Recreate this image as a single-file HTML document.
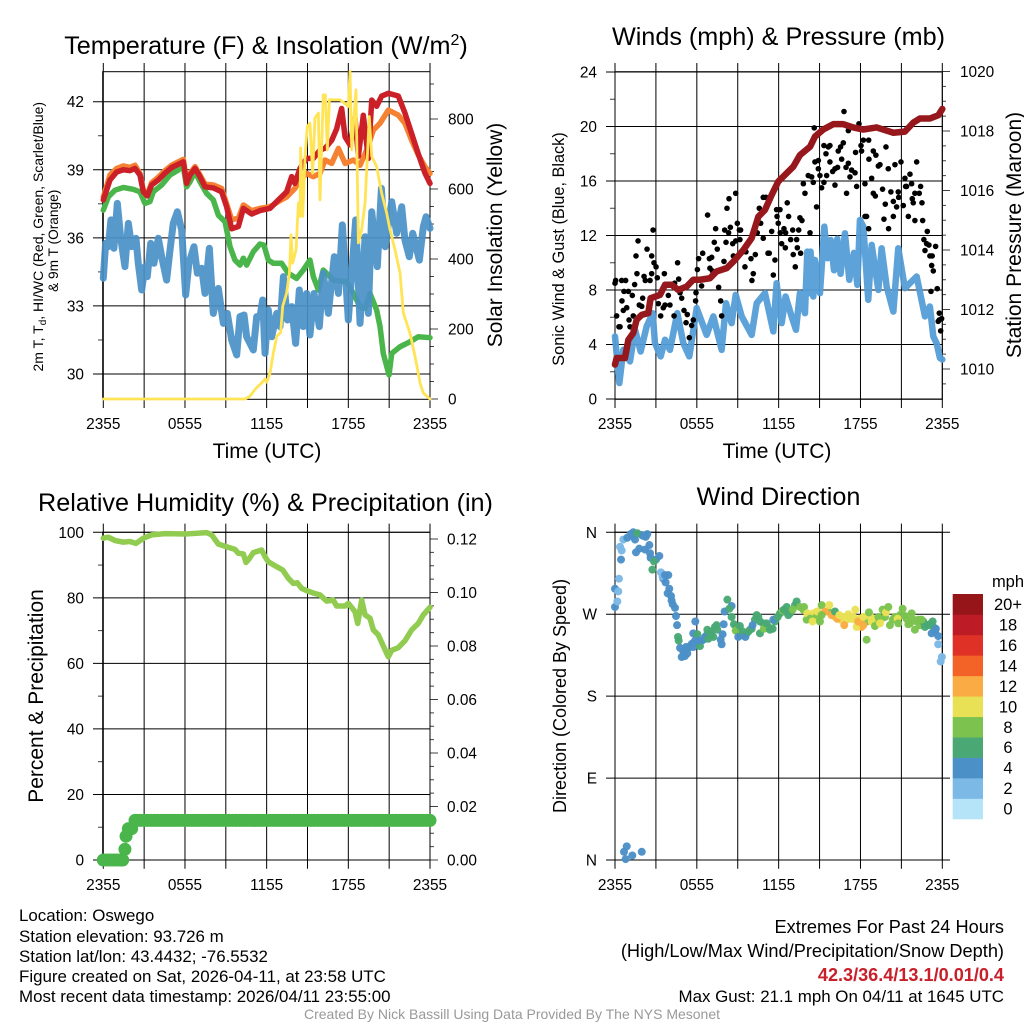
<!DOCTYPE html>
<html lang="en">
<head>
<meta charset="utf-8">
<title>Oswego Mesonet Meteogram</title>
<style>
html,body{margin:0;padding:0;background:#fff;}
svg{display:block;font-family:"Liberation Sans",Arial,sans-serif;fill:#000;}
</style>
</head>
<body>
<svg id="chart" xmlns="http://www.w3.org/2000/svg" width="1024" height="1024" viewBox="0 0 1024 1024">
<rect x="0" y="0" width="1024" height="1024" fill="#fff"/>
<text x="266" y="54" font-size="25.2" text-anchor="middle">Temperature (F) &amp; Insolation (W/m<tspan dy="-9" font-size="16">2</tspan><tspan dy="9">)</tspan></text>
<text x="778.5" y="45" font-size="25.2" text-anchor="middle">Winds (mph) &amp; Pressure (mb)</text>
<text x="265.5" y="511" font-size="25.2" text-anchor="middle">Relative Humidity (%) &amp; Precipitation (in)</text>
<text x="778.5" y="505" font-size="25.2" text-anchor="middle">Wind Direction</text>
<text x="267" y="458" font-size="21" text-anchor="middle">Time (UTC)</text>
<text x="777" y="458" font-size="21" text-anchor="middle">Time (UTC)</text>
<text transform="translate(43,236.7) rotate(-90)" font-size="14" text-anchor="middle">2m T, T<tspan dy="3" font-size="10">d</tspan><tspan dy="-3">, HI/WC (Red, Green, Scarlet/Blue)</tspan></text>
<text transform="translate(58,240.8) rotate(-90)" font-size="13.7" text-anchor="middle">&amp; 9m T (Orange)</text>
<text transform="translate(502,235) rotate(-90)" font-size="21" text-anchor="middle">Solar Insolation (Yellow)</text>
<text transform="translate(564,249) rotate(-90)" font-size="16.3" text-anchor="middle">Sonic Wind &amp; Gust (Blue, Black)</text>
<text transform="translate(1021,235) rotate(-90)" font-size="21" text-anchor="middle">Station Pressure (Maroon)</text>
<text transform="translate(43,696) rotate(-90)" font-size="21" text-anchor="middle">Percent &amp; Precipitation</text>
<text transform="translate(566,696) rotate(-90)" font-size="18" text-anchor="middle">Direction (Colored By Speed)</text>
<text x="19" y="921" font-size="16.9">Location: Oswego</text>
<text x="19" y="942" font-size="16.9">Station elevation: 93.726 m</text>
<text x="19" y="962" font-size="16.9">Station lat/lon: 43.4432; -76.5532</text>
<text x="19" y="982" font-size="16.9">Figure created on Sat, 2026-04-11, at 23:58 UTC</text>
<text x="19" y="1002" font-size="16.9">Most recent data timestamp: 2026/04/11 23:55:00</text>
<text x="1004" y="933" font-size="18.2" text-anchor="end">Extremes For Past 24 Hours</text>
<text x="1004" y="957" font-size="18.2" text-anchor="end">(High/Low/Max Wind/Precipitation/Snow Depth)</text>
<text x="1004" y="981" font-size="18.1" font-weight="bold" fill="#c8202a" text-anchor="end">42.3/36.4/13.1/0.01/0.4</text>
<text x="1004" y="1002" font-size="16.9" text-anchor="end">Max Gust: 21.1 mph On 04/11 at 1645 UTC</text>
<text x="512" y="1019" font-size="14" fill="#999" text-anchor="middle">Created By Nick Bassill Using Data Provided By The NYS Mesonet</text>
<text x="1008" y="587" font-size="16.5" text-anchor="middle">mph</text>
</svg>
<script>
const timeTicks = [0,3,6,9,12,15,18,21,24];
const timeTickLabels = ["2355","","0555","","1155","","1755","","2355"];

const tempTicks = [30,33,36,39,42];
const tempMinorTicks = [31.5,34.5,37.5,40.5];
const solarTicks = [0,200,400,600,800];
const solarMinorTicks = [50,100,150,250,300,350,450,500,550,650,700,750,850,900];
const windTicks = [0,4,8,12,16,20,24];
const windMinorTicks = [2,6,10,14,18,22];
const pressureTicks = [1010,1012,1014,1016,1018,1020];
const pressureMinorTicks = [1009.5,1010.5,1011,1011.5,1012.5,1013,1013.5,1014.5,1015,1015.5,1016.5,1017,1017.5,1018.5,1019,1019.5];
const humidityTicks = [0,20,40,60,80,100];
const humidityMinorTicks = [10,30,50,70,90];
const precipTicks = [0,0.02,0.04,0.06,0.08,0.10,0.12];
const precipMinorTicks = [0.005,0.01,0.015,0.025,0.03,0.035,0.045,0.05,0.055,0.065,0.07,0.075,0.085,0.09,0.095,0.105,0.11,0.115];
const directionTicks = [0,90,180,270,360];
const directionTickLabels = ["N","E","S","W","N"];

const temp2mHours = [0,.49,.98,1.47,1.96,2.33,2.69,2.94,3.23,3.55,4.04,4.53,5.02,5.88,6.12,6.37,6.74,7.1,7.47,8.08,8.69,9.06,9.43,9.92,10.29,10.9,11.51,12.25,12.86,13.47,13.84,14.08,14.45,14.94,15.43,15.92,16.29,16.78,17.14,17.51,17.76,18.12,18.49,18.74,19.1,19.47,19.72,20.08,20.45,20.94,21.67,22.16,22.65,23.14,23.63,24];
const temp2mValues = [37.67,38.55,38.9,39,38.96,39.06,38.77,38.03,37.85,38.33,38.55,38.85,39.1,39.35,38.4,38.77,39.06,38.7,38.25,38.2,38.03,37.37,36.4,36.5,37.3,37.05,37.2,37.3,37.67,38.03,38.7,38.4,39.06,39.5,39.5,39.87,39.95,40.3,40.8,41.7,40.45,40.1,41.27,39.6,41.4,39.5,42.07,41.8,42.25,42.37,42.25,41.5,40.6,39.7,38.85,38.4];
const temp9mHours = [0,.49,.98,1.47,1.96,2.33,2.69,2.94,3.23,3.55,4.04,4.53,5.02,5.88,6.12,6.37,6.74,7.1,7.47,8.08,8.69,9.06,9.43,9.92,10.29,10.9,11.51,12.25,12.86,13.47,14.08,14.45,14.94,15.43,15.92,16.29,16.78,17.27,17.76,18.37,18.86,19.35,19.84,20.33,20.94,21.67,22.16,22.65,23.14,23.63,24];
const temp9mValues = [37.8,38.77,39.06,39.17,39.11,39.2,38.84,38.1,37.9,38.43,38.67,38.96,39.2,39.46,38.47,38.84,39.14,38.77,38.37,38.33,38.18,37.5,36.8,36.86,37.45,37.2,37.3,37.37,37.6,37.8,38.18,38.55,38.84,38.7,38.84,39.43,39.28,39.94,39.28,39.43,39.2,39.87,40.75,41.05,41.63,41.41,41.05,40.3,39.65,39.14,38.84];
const windChillHours = [0,.37,.86,1.47,2.2,2.69,3.06,3.43,3.67,4.29,4.9,5.51,5.88,6.12,6.37,6.74,7.1,7.59,8.08,8.45,8.94,9.31,9.67,10.04,10.29,10.53,11.02,11.51,11.8,12.12,12.49,13.1,13.59,14.2,14.69,15.18,15.43,15.8,16.16,16.9,17.88,18.37,18.86,19.23,19.59,20.08,20.33,20.57,20.99,21.19,21.8,22.53,23.14,24];
const windChillValues = [37.22,37.81,38.1,38.22,38.14,38.03,37.52,37.6,38.03,38.33,38.77,38.99,39.14,38.25,38.47,38.92,38.47,37.96,37.67,37,36.71,35.61,35.02,34.8,35.1,34.8,35.39,35.73,35.68,35.02,34.88,34.88,34.44,34.21,34.58,35.02,34.29,33.7,34.58,34.14,34.07,33.55,32.97,32.89,33.55,32.82,32.09,30.9,29.96,30.91,31.2,31.42,31.64,31.6];
const dewPointHours = [0,.17,.37,.56,.78,1.03,1.27,1.59,1.84,2.08,2.4,2.57,2.82,3.06,3.23,3.48,3.72,4.04,4.29,4.65,4.9,5.14,5.44,5.76,6.05,6.29,6.66,6.91,7.23,7.47,7.79,8.08,8.45,8.82,9.11,9.43,9.8,10.04,10.34,10.53,11.02,11.27,11.51,11.71,11.88,12.12,12.37,12.74,12.98,13.23,13.52,13.84,14.13,14.4,14.69,14.94,15.18,15.48,15.87,16.16,16.53,16.97,17.27,17.56,18,18.54,18.86,19.23,19.47,19.72,20.13,20.43,20.7,21.19,21.55,21.92,22.16,22.48,22.73,23.22,23.51,23.71,24];
const dewPointValues = [34.22,35.76,35.61,36.79,35.54,37.52,36.05,34.73,36.64,35.61,35.98,34.88,33.7,34.73,34.29,35.76,34.88,35.98,35.17,34.14,35.46,36.64,37.15,36.34,33.48,34.88,35.61,34.44,34.66,33.55,35.54,32.67,33.77,32.23,32.67,31.5,30.84,32.53,32.6,31.64,31.06,32.53,32.53,33.26,30.91,32.82,31.64,32.67,32.09,34.29,32.38,32.97,31.35,33.7,32.09,33.55,31.72,33.55,32.09,34.44,32.67,35.17,33.55,36.57,32.38,36.79,32.23,36.05,32.67,37.15,34.73,38.18,35.61,37.59,36.2,37.37,35.9,35.17,36.2,35.02,36.49,36.93,36.42];
const solarHours = [0,10.41,10.78,11.14,11.63,11.88,12,12.25,12.49,12.74,13.03,13.18,13.47,13.67,13.79,13.91,14.16,14.33,14.45,14.5,14.65,14.82,14.99,15.18,15.38,15.55,15.8,15.92,16.16,16.31,16.46,16.61,17.39,18,18.12,18.25,18.56,18.74,18.98,19.23,19.54,19.72,20.08,20.45,20.82,21.06,21.43,21.8,22.04,22.53,22.9,23.27,23.51,24];
const solarValues = [0,0,8,27,46,57,48,74,131,179,190,265,303,360,469,388,426,560,522,717,522,693,779,788,645,803,817,569,869,869,712,855,855,836,936,712,883,446,484,560,807,693,664,588,531,484,426,360,246,188,122,46,17,0];

const windHours = [0,.32,.61,1.1,1.47,1.88,2.32,2.76,2.93,3.35,3.67,4.03,4.57,5.01,5.45,5.99,6.72,7.21,7.82,8.14,8.55,8.85,9.29,10.02,10.39,11,11.61,11.85,12.22,12.51,12.95,13.27,13.56,13.93,14.1,14.25,14.34,14.54,14.66,15.03,15.35,15.57,15.81,16.06,16.3,16.54,16.86,17.18,17.52,17.77,17.96,18.21,18.57,18.82,19.31,19.55,19.92,20.41,20.77,21.26,22.12,22.73,23.09,23.34,23.58,23.83,24];
const windValues = [4.59,1.17,3.61,2.76,5.08,3.49,5.32,6.3,4.1,3.13,4.35,3.61,6.3,4.1,3.13,6.67,4.71,6.06,3.61,7.03,5.57,7.64,6.06,4.71,7.03,7.77,4.96,8.5,5.57,7.52,6.06,5.08,7.77,6.3,10.82,7.77,10.82,7.52,10.2,7.77,12.65,10.33,11.67,9.45,11.75,9.19,12.16,8.75,10.72,8.38,13.14,12.65,7.28,11.31,8.01,11.06,8.25,6.42,11.06,8.13,8.99,6.06,6.79,4.59,4.1,3,2.9];
const gustHours = [0,.05,.49,.78,.12,.29,.37,.51,.66,.98,.61,.86,1.03,1.1,1.27,1.34,1.44,1.54,1.69,1.61,1.78,2.03,1.96,2.13,2.22,2.57,2.35,2.69,2.86,2.79,3.01,3.1,2.69,3.62,3.18,3.35,3.54,3.91,3.67,4.03,4.33,4.77,4.59,4.67,4.37,4.89,5.06,5.21,5.3,5.45,5.62,5.74,5.91,5.94,6.04,6.13,6.43,6.35,6.79,6.92,7.09,6.96,7.14,7.28,7.38,7.5,7.6,7.75,7.82,7.99,8.04,8.14,8.21,8.33,8.46,8.36,8.85,8.63,8.85,8.97,9.12,9.21,8.68,9.16,9.53,9.6,9.97,10.14,10.04,10.29,10.43,10.68,10.58,10.87,11.07,11.12,10.87,11.22,11.31,11.49,11.73,11.61,11.85,12.1,11.88,11.97,12.12,12.22,12.49,12.39,12.51,12.63,12.73,12.88,13.03,13.07,13.22,13.32,13.37,13.47,13.56,13.71,13.61,13.81,13.93,14.17,14.42,14.3,14.54,14.66,14.61,14.91,14.91,14.78,15.03,15.15,15.32,15.32,15.52,15.64,15.76,15.47,15.76,15.96,16.13,16.32,16.13,16.37,16.54,16.74,16.62,16.79,16.98,16.94,17.11,17.23,17.35,17.6,17.72,17.64,17.11,17.89,18.04,18.08,18.21,18.33,18.45,18.33,18.6,18.6,18.62,18.82,18.94,19.13,18.94,19.09,19.31,19.43,19.62,19.72,19.82,19.87,20.06,20.04,20.23,20.41,20.41,20.53,20.65,20.77,20.8,20.97,21.14,21.26,21.38,21.31,21.51,21.63,21.75,21.8,21.99,21.99,21.87,22.12,22.31,22.41,22.51,22.56,22.65,22.9,22.73,22.85,23.02,23.09,23.26,23.22,23.34,23.17,23.63,23.51,23.78,23.95,23.78,23.88,23.7];
const gustValues = [8.5,8.7,8.7,8.7,6.1,5.3,5.3,7.2,7.9,7.9,6.5,6.7,5.8,5.3,7.6,6.1,8.4,10.5,11.6,9.2,6.9,7.4,6.8,9,8.7,8.7,11,9.2,10,12.4,9.7,8.9,10.5,9.2,7,6.1,6.7,7.6,6.9,6.9,6.1,7.8,10,8.8,8.5,7.4,6.5,5.6,6.2,4.5,5.4,5.8,7.2,7.8,9.5,10.3,10.7,8.3,13.5,10.3,10.4,9.6,9.4,11.5,12.5,11,8.2,7.2,6.1,10.1,12.4,11.5,14,12.2,12.6,14.7,15.1,11.4,11.6,12.9,12.4,12.4,10.5,11.7,9.7,10.8,10.3,9.2,8.7,10.6,12.2,12.9,14,14.8,14.8,14.1,11.8,10.7,10.7,12.3,10.2,9.1,13.9,13.9,13.4,12.9,12.2,11.4,11.1,12.5,12.2,14.4,13.4,11.7,12.4,10.6,9.7,11.7,11.1,12.4,13.3,13.1,10.7,15.8,15.1,16.4,16.3,12.2,15.9,17.4,19.9,17.5,16.9,14.1,16.4,15.5,15.9,18.6,16.4,18.5,18.6,18,17.4,16.7,16.9,17,15.7,18.2,18.5,18.8,17.6,21.1,15.1,17,17.3,16.3,16.8,16.6,15.6,18.1,19.7,20.2,18.6,18.2,19,15.8,13.4,13.4,19,12.5,17.6,16.2,18.2,17.9,15.1,14.9,17.1,17.2,15.4,13.2,14.3,18.5,12.5,16.9,15.2,13.4,14.5,17.2,14.1,15.2,14.8,17.4,14.2,16.2,15.6,15.6,13.4,16.5,15.8,14.7,13.1,15.1,14.4,17.4,15.1,15.6,14.4,13.1,11.7,12.3,10.9,11.4,11.3,10.5,10.5,9.8,9.4,7.9,8.1,11.2,6.3,5.9,5.8,5,5.7];
const pressureHours = [0,.12,.73,.98,1.34,1.59,1.96,2.44,2.61,3.3,3.67,4.15,4.64,5.25,5.74,6.23,6.96,7.45,8.19,8.68,9.41,10.02,10.51,11,11.49,11.97,12.59,13.07,13.56,14.3,14.66,15.27,16.01,16.74,17.47,18.21,19.18,20.41,21.26,21.87,22.36,23.09,23.71,24];
const pressureValues = [1010.15,1010.37,1010.37,1010.98,1011.21,1011.66,1011.82,1011.88,1012.38,1012.49,1012.83,1012.83,1012.66,1012.77,1013,1013,1013.05,1013.28,1013.39,1013.61,1014,1014.4,1015.12,1015.35,1015.85,1016.3,1016.58,1016.8,1017.19,1017.47,1017.81,1018.05,1018.23,1018.23,1018.12,1018.05,1018.12,1017.94,1017.98,1018.28,1018.42,1018.42,1018.53,1018.74];

const humidityHours = [0,.37,.86,1.47,1.96,2.4,2.94,3.55,4.53,6.12,7.59,7.96,8.45,9.06,9.67,9.92,10.29,10.48,10.73,11.02,11.63,11.88,12.12,12.74,13.18,13.59,13.96,14.25,14.57,14.94,15.48,15.92,16.41,16.9,17.14,17.76,18,18.49,18.69,18.98,19.23,19.59,19.84,20.2,20.57,20.94,21.19,21.67,22.16,22.65,23.14,23.51,24];
const humidityValues = [98.2,98.5,97.5,97,97.2,96.6,98.2,99.2,99.6,99.5,99.9,99.2,96.4,95.6,94.8,93.6,93.4,90.8,92,93.8,94.6,92.6,91,89.5,88.5,86,84.4,84.6,82.9,82.2,81.4,80.9,79,79.3,77.5,77.5,78.3,75.8,72.2,79.3,74.8,73.8,70.2,68.7,65.3,62,64,64.8,66.9,70.2,72.2,74.8,77.1];
const precipHours = [0,.25,.5,.75,1,1.25,1.42,1.59,1.67,1.84,2.08,2.33,2.5,2.75,3,3.25,3.5,3.75,4,4.25,4.5,4.75,5,5.25,5.5,5.75,6,6.25,6.5,6.75,7,7.25,7.5,7.75,8,8.25,8.5,8.75,9,9.25,9.5,9.75,10,10.25,10.5,10.75,11,11.25,11.5,11.75,12,12.25,12.5,12.75,13,13.25,13.5,13.75,14,14.25,14.5,14.75,15,15.25,15.5,15.75,16,16.25,16.5,16.75,17,17.25,17.5,17.75,18,18.25,18.5,18.75,19,19.25,19.5,19.75,20,20.25,20.5,20.75,21,21.25,21.5,21.75,22,22.25,22.5,22.75,23,23.25,23.5,23.75,24];
const precipValues = [0,0,0,0,0,0,0,.004,.0089,.0117,.0117,.0148,.0148,.0148,.0148,.0148,.0148,.0148,.0148,.0148,.0148,.0148,.0148,.0148,.0148,.0148,.0148,.0148,.0148,.0148,.0148,.0148,.0148,.0148,.0148,.0148,.0148,.0148,.0148,.0148,.0148,.0148,.0148,.0148,.0148,.0148,.0148,.0148,.0148,.0148,.0148,.0148,.0148,.0148,.0148,.0148,.0148,.0148,.0148,.0148,.0148,.0148,.0148,.0148,.0148,.0148,.0148,.0148,.0148,.0148,.0148,.0148,.0148,.0148,.0148,.0148,.0148,.0148,.0148,.0148,.0148,.0148,.0148,.0148,.0148,.0148,.0148,.0148,.0148,.0148,.0148,.0148,.0148,.0148,.0148,.0148,.0148,.0148,.0148];

const directionHours = [13.81,14.05,14.54,14.78,15.62,16.1,16.13,16.54,16.98,17.47,17.6,17.96,18.08,18.45,18.74,18.98,19.23,19.55,19.8,20.36,20.9,21.38,21.63,21.87,22.24,22.36,22.6,22.97,23.34,23.46,5.01,5.38,5.62,5.87,6.35,6.72,7.09,7.21,7.45,8.92,9.04,9.29,9.65,9.9,10.26,10.51,10.87,11.24,11.73,12.1,12.46,12.83,13.2,3.54,4.15,2.57,1.96,1.34,0,.17,0,.24,.29,.44,.49,.37,.61,.9,1.15,1.47,1.3,1.64,2.08,2.37,2.25,1.54,1.78,2.2,2.52,2.61,3.01,3.25,2.86,2.74,3.37,3.49,3.67,3.91,3.71,3.98,3.86,4.11,4.23,4.4,4.47,4.55,4.62,4.67,4.77,4.89,5.13,5.3,5.21,5.5,5.74,5.69,5.89,5.74,6.04,6.23,6.13,6.48,6.6,6.77,6.84,7.01,7.33,7.5,7.75,7.82,7.89,7.97,8.04,8.24,8.55,8.38,8.55,8.72,8.85,9.04,9.16,9.36,9.56,9.78,10.02,10.09,10.39,10.63,10.63,10.92,11.12,11.36,11.56,11.61,11.93,12.29,12.39,12.71,12.59,13.03,13.32,13.56,13.86,14.1,14.3,14.49,14.83,15.03,15.15,15.4,15.15,15.71,15.88,16.13,16.3,16.45,16.74,16.81,17.11,17.28,17.62,17.72,17.84,18.21,18.21,18.45,18.62,18.82,19.06,19.31,19.43,19.62,19.87,20.04,20.16,20.53,20.72,20.77,21.09,21.26,21.51,21.75,21.99,22.12,22.48,22.73,23.09,23.29,23.22,23.53,23.7,23.7,23.88,23.97,.66,.86,1.27,1.96,.78];
const directionValues = [275,264,271,267,273,270,267,264,264,267,264,265,256,262,267,264,260,265,267,264,269,265,260,264,264,258,262,258,256,251,229,233,237,241,241,247,251,245,258,256,251,247,249,253,264,267,260,256,262,271,273,271,280,309,285,337,357,360,278,284,298,295,309,330,340,344,352,354,358,352,356,359,356,358,355,338,342,341,346,332,330,334,328,319,316,311,313,313,305,298,293,290,281,277,268,258,245,241,233,223,224,227,234,235,234,238,262,249,248,235,241,242,245,253,243,247,256,253,242,237,248,259,273,286,279,276,267,259,252,245,257,251,245,251,254,258,269,249,262,254,260,253,254,264,267,274,275,269,278,275,284,278,278,271,265,262,273,262,280,273,269,280,269,273,265,269,267,258,270,265,275,256,262,258,267,242,272,262,257,267,260,275,272,278,258,267,265,260,276,268,259,271,253,262,264,256,259,262,249,254,246,237,218,223,9,15,5,9,1];
const directionSpeeds = [8,8,10,8,8,10,10,10,10,10,10,10,12,8,10,10,8,10,8,8,8,8,8,8,8,8,6,6,6,4,4,4,4,4,4,6,6,6,6,6,6,6,6,6,6,6,6,6,6,6,6,6,6,4,4,4,4,4,4,2,4,2,2,4,2,2,2,4,4,4,4,6,4,4,4,4,4,4,4,4,4,4,6,6,2,2,4,4,4,4,4,4,4,4,4,4,6,6,4,4,4,4,4,4,4,4,4,4,6,6,4,4,4,6,6,6,6,6,4,4,4,4,4,6,4,6,6,6,8,4,6,6,4,6,6,4,6,6,6,8,6,6,6,4,6,8,6,6,6,8,6,8,8,10,8,10,10,8,8,12,8,10,12,6,12,10,10,12,10,10,10,10,12,12,10,8,8,10,8,8,10,8,10,8,8,8,10,8,8,8,8,8,8,8,8,6,6,6,4,4,4,2,2,2,4,4,4,4,4];

const colorbarLabels = ["0","2","4","6","8","10","12","14","16","18","20+"];
const speedColors = ["#b5e3f8","#7cb9e6","#4c90c8","#49a874","#7bc34e","#e8e155","#fbab44","#f36327","#e03127","#bd1b25","#951518"];

const NS = "http://www.w3.org/2000/svg";
const svg = document.getElementById("chart");
function linear(d0,d1,r0,r1){ return function(v){ return r0+(v-d0)*(r1-r0)/(d1-d0); }; }
function add(parent,tag,attrs,txt){
  const n=document.createElementNS(NS,tag);
  for(const k in attrs){ n.setAttribute(k,attrs[k]); }
  if(txt!==undefined){ n.textContent=txt; }
  parent.appendChild(n);
  return n;
}
function pathOf(hours,vals,xf,yf){
  let d="";
  const n=Math.min(hours.length,vals.length);
  for(let i=0;i<n;i++){ d+=(i?"L":"M")+xf(hours[i]).toFixed(2)+" "+yf(vals[i]).toFixed(2); }
  return d;
}
function drawLine(hours,vals,xf,yf,color,width,opacity,name){
  const p=add(svg,"path",{d:pathOf(hours,vals,xf,yf),fill:"none",stroke:color,"stroke-width":width,"stroke-opacity":opacity,"stroke-linejoin":"round","stroke-linecap":"round"});
  
  
}
function drawGridV(xf,top,bottom,name){
  timeTicks.forEach(function(t){
    const l=add(svg,"line",{x1:xf(t),x2:xf(t),y1:top-8.7,y2:bottom+8.7,stroke:"#000","stroke-width":1});
    
    
  });
}
function drawFrame(x0,x1,y0,y1,name){
  const r=add(svg,"rect",{x:x0,y:y0,width:x1-x0,height:y1-y0,fill:"none",stroke:"#000","stroke-width":1});
  
  
}
function drawGridH(ticks,yf,x0,x1,name){
  ticks.forEach(function(v){
    const l=add(svg,"line",{x1:x0,x2:x1,y1:yf(v),y2:yf(v),stroke:"#000","stroke-width":1});
    
    
  });
}
function drawTicks(ticks,yf,x0,x1,name){
  ticks.forEach(function(v){
    const l=add(svg,"line",{x1:x0,x2:x1,y1:yf(v),y2:yf(v),stroke:"#000","stroke-width":1,"stroke-opacity":0.75});
    
    
  });
}
function drawXLabels(xf,y,name){
  timeTicks.forEach(function(t,i){
    if(!timeTickLabels[i]){ return; }
    const s=add(svg,"text",{x:xf(t),y:y,"font-size":15.4,"text-anchor":"middle"},timeTickLabels[i]);
    
    
  });
}
function drawYLabels(ticks,labels,yf,x,anchor,name){
  ticks.forEach(function(v,i){
    const s=add(svg,"text",{x:x,y:yf(v)+5.5,"font-size":15.4,"text-anchor":anchor},labels[i]);
    
    
  });
}

/* Panel 1: temperature and insolation */
const xLeft = linear(0,24,103.3,430);
const yTemp = linear(30,42,374,101.7);
const ySolar = linear(0,800,399,119);
drawGridV(xLeft,71.7,399.3,"temperature");
drawGridH(tempTicks,yTemp,93,430,"temperature");
drawTicks(tempMinorTicks,yTemp,98,103,"temperature-minor");
drawTicks(solarTicks,ySolar,430,438,"solar");
drawTicks(solarMinorTicks,ySolar,430,434,"solar-minor");
drawFrame(102.7,430,71.7,399.3,"temperature");
drawLine(windChillHours,windChillValues,xLeft,yTemp,"#4ab54a",5.5,1,"wind-chill-line");
drawLine(temp9mHours,temp9mValues,xLeft,yTemp,"#f58233",5.5,1,"temperature-9m-line");
drawLine(temp2mHours,temp2mValues,xLeft,yTemp,"#cb2027",5.5,1,"temperature-2m-line");
drawLine(dewPointHours,dewPointValues,xLeft,yTemp,"#4a90c8",7,0.92,"dew-point-line");
drawLine(solarHours,solarValues,xLeft,ySolar,"#ffe455",2.8,1,"solar-insolation-line");
drawXLabels(xLeft,429,"temperature");
drawYLabels(tempTicks,tempTicks.map(String),yTemp,84,"end","temperature");
drawYLabels(solarTicks,solarTicks.map(String),ySolar,448,"start","solar");

/* Panel 2: winds and pressure */
const xRight = linear(0,24,615,942.3);
const yWind = linear(0,24,399,72);
const yPressure = linear(1010,1018,369,131);
drawGridV(xRight,71.7,399.3,"winds");
drawGridH(windTicks,yWind,606,942.3,"winds");
drawTicks(windMinorTicks,yWind,610,615,"wind-minor");
drawTicks(pressureTicks,yPressure,942.3,950,"pressure");
drawTicks(pressureMinorTicks,yPressure,942.3,946,"pressure-minor");
drawFrame(615,942.3,71.7,399.3,"winds");
drawLine(windHours,windValues,xRight,yWind,"#549dd6",6.5,0.95,"sonic-wind-line");
gustHours.forEach(function(h,i){
  const c=add(svg,"circle",{cx:xRight(h),cy:yWind(gustValues[i]),r:2.8,fill:"#000"});
  
  
});
drawLine(pressureHours,pressureValues,xRight,yPressure,"#96181c",6.5,1,"pressure-line");
drawXLabels(xRight,429,"winds");
drawYLabels(windTicks,windTicks.map(String),yWind,597,"end","wind");
drawYLabels(pressureTicks,pressureTicks.map(String),yPressure,960,"start","pressure");

/* Panel 3: humidity and precipitation */
const yHumidity = linear(0,100,860,532.3);
const yPrecip = linear(0,0.12,860,539);
drawGridV(xLeft,532.3,860,"humidity");
drawGridH(humidityTicks,yHumidity,93,430,"humidity");
drawTicks(humidityMinorTicks,yHumidity,98,103,"humidity-minor");
drawTicks(precipTicks,yPrecip,430,438,"precipitation");
drawTicks(precipMinorTicks,yPrecip,430,434,"precipitation-minor");
drawFrame(102.7,430,532.3,860,"humidity");
drawLine(humidityHours,humidityValues,xLeft,yHumidity,"#91cb50",5.5,1,"relative-humidity-line");
precipHours.forEach(function(h,i){
  const c=add(svg,"circle",{cx:xLeft(h),cy:yPrecip(precipValues[i]),r:6.5,fill:"#4ab54a"});
  
  
});
drawXLabels(xLeft,890,"humidity");
drawYLabels(humidityTicks,humidityTicks.map(String),yHumidity,84,"end","humidity");
drawYLabels(precipTicks,precipTicks.map(function(v){return v.toFixed(2);}),yPrecip,447,"start","precipitation");

/* Panel 4: wind direction */
const yDirection = linear(0,360,860,532.3);
drawGridV(xRight,532.3,860,"direction");
drawGridH(directionTicks,yDirection,606,950,"direction");
drawFrame(615,942.3,532.3,860,"direction");
function speedColor(s){ return speedColors[Math.min(speedColors.length-1,Math.floor(s/2))]; }
directionHours.forEach(function(h,i){
  const c=add(svg,"circle",{cx:xRight(h),cy:yDirection(directionValues[i]),r:4,fill:speedColor(directionSpeeds[i]),"fill-opacity":0.97});
  
  
});
drawXLabels(xRight,890,"direction");
drawYLabels(directionTicks,directionTickLabels,yDirection,597,"end","direction");

/* Colorbar */
const colorbarY = linear(0,11,819,594);
colorbarLabels.forEach(function(lab,i){
  const r=add(svg,"rect",{x:952.7,y:colorbarY(i+1),width:30.3,height:colorbarY(i)-colorbarY(i+1)+0.3,fill:speedColors[i]});
  
  
  const s=add(svg,"text",{x:1008,y:colorbarY(i+0.5)+5.8,"font-size":16.5,"text-anchor":"middle"},lab);
  
  
});
</script>
</body>
</html>
